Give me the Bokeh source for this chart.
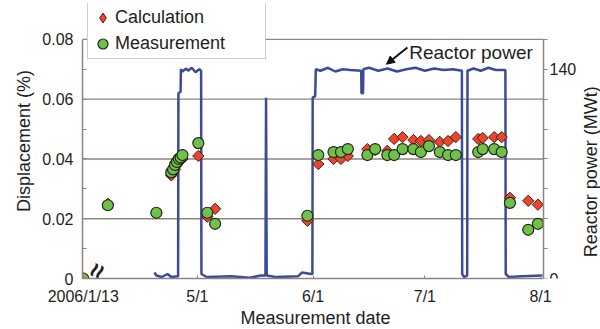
import numpy as np
import pandas as pd
from bokeh.plotting import figure
from bokeh.models import (Range1d, LinearAxis, FixedTicker, Legend, LegendItem, Label,
                          Arrow, NormalHead, CustomJSTickFormatter, Title)
from bokeh.core.properties import value
from bokeh.embed import file_html
from bokeh.resources import INLINE

FONT = "Liberation Sans"

# ---------------- data ----------------
meas_dates = [
    "2006-01-13 00:00", "2006-04-07 00:00", "2006-04-20 00:00",
    "2006-04-24 00:00", "2006-04-24 12:00", "2006-04-25 00:00", "2006-04-25 12:00",
    "2006-04-26 00:00", "2006-04-26 12:00", "2006-04-27 00:00",
    "2006-05-01 06:00", "2006-05-03 16:00", "2006-05-05 18:00",
    "2006-05-30 12:00", "2006-06-02 10:00", "2006-06-06 12:00", "2006-06-08 12:00",
    "2006-06-10 08:00", "2006-06-15 14:00", "2006-06-17 16:00", "2006-06-20 22:00",
    "2006-06-22 18:00", "2006-06-25 00:00", "2006-06-27 22:00", "2006-06-29 22:00",
    "2006-07-02 02:00", "2006-07-05 00:00", "2006-07-07 05:00", "2006-07-09 07:00",
    "2006-07-15 07:00", "2006-07-16 12:00", "2006-07-19 14:00", "2006-07-21 14:00",
    "2006-07-23 19:00", "2006-07-28 17:00", "2006-07-31 07:00",
]
calc_values = [
    0.0, 0.025, 0.022,
    0.0345, 0.0355, 0.0365, 0.038,
    0.039, 0.0395, 0.040,
    0.041, 0.0207, 0.0233,
    0.0193, 0.0383, 0.040, 0.040,
    0.041, 0.0433, 0.0430, 0.0427,
    0.0467, 0.0473, 0.0463, 0.046,
    0.0463, 0.0457, 0.046, 0.0473,
    0.0467, 0.047, 0.0473, 0.0473,
    0.027, 0.026, 0.0247,
]
meas_values = [
    0.0, 0.0245, 0.022,
    0.0355, 0.0365, 0.038, 0.039,
    0.040, 0.0405, 0.0413,
    0.0453, 0.022, 0.0183,
    0.021, 0.0413, 0.0423, 0.0423,
    0.0433, 0.0413, 0.0433, 0.0413,
    0.0413, 0.0433, 0.0433, 0.0423,
    0.0443, 0.0423, 0.0413, 0.0413,
    0.0423, 0.0433, 0.0433, 0.0423,
    0.0253, 0.0163, 0.0183,
]

power_times = [
    "2006-04-19 12:00", "2006-04-20 00:00", "2006-04-21 12:00", "2006-04-23 00:00",
    "2006-04-24 00:00", "2006-04-25 20:00", "2006-04-25 22:00", "2006-04-26 12:00",
    "2006-04-26 14:00", "2006-04-27 00:00", "2006-04-28 00:00", "2006-04-28 12:00",
    "2006-04-29 12:00", "2006-04-30 12:00", "2006-05-01 12:00", "2006-05-02 00:00",
    "2006-05-02 02:00", "2006-05-03 12:00", "2006-05-10 00:00", "2006-05-15 00:00",
    "2006-05-18 00:00", "2006-05-19 06:00", "2006-05-19 08:00", "2006-05-19 10:00",
    "2006-05-19 12:00", "2006-05-19 14:00", "2006-05-22 00:00", "2006-05-28 00:00",
    "2006-05-29 00:00", "2006-05-31 12:00", "2006-05-31 20:00", "2006-05-31 22:00",
    "2006-06-01 14:00", "2006-06-01 18:00", "2006-06-03 00:00", "2006-06-05 00:00",
    "2006-06-07 00:00", "2006-06-09 00:00", "2006-06-11 00:00", "2006-06-13 22:00",
    "2006-06-14 00:00", "2006-06-14 10:00", "2006-06-14 12:00", "2006-06-16 00:00",
    "2006-06-18 12:00", "2006-06-21 00:00", "2006-06-23 12:00", "2006-06-26 00:00",
    "2006-06-28 12:00", "2006-07-01 00:00", "2006-07-03 12:00", "2006-07-06 00:00",
    "2006-07-08 12:00", "2006-07-10 22:00", "2006-07-11 00:00", "2006-07-11 12:00",
    "2006-07-12 08:00", "2006-07-12 10:00", "2006-07-14 00:00", "2006-07-16 00:00",
    "2006-07-18 00:00", "2006-07-20 00:00", "2006-07-22 14:00", "2006-07-22 16:00",
    "2006-07-23 12:00", "2006-07-27 00:00", "2006-08-01 12:00",
]
power_mw = [
    4.0, 2.0, 1.0, 3.0,
    1.0, 1.5, 124.0, 125.0,
    140.0, 138.5, 140.5, 139.0,
    141.0, 138.0, 140.0, 139.0,
    3.0, 1.0, 1.5, 0.5,
    2.0, 2.0, 66.0, 121.0,
    60.0, 2.0, 1.0, 1.5,
    4.0, 3.0, 3.0, 121.0,
    122.0, 140.0, 139.0, 141.0,
    138.5, 140.0, 139.5, 139.0,
    124.0, 124.0, 140.0, 141.0,
    139.0, 140.5, 138.5, 140.0,
    141.0, 139.0, 140.5, 139.5,
    140.0, 139.0, 3.0, 1.0,
    2.0, 139.0, 140.5, 139.0,
    141.0, 139.5, 139.5, 3.0,
    1.0, 1.5, 2.0,
]

tick_dates = ["2006-01-13 00:00", "2006-05-01 00:00", "2006-06-01 00:00",
              "2006-07-01 00:00", "2006-08-01 00:00"]
tick_labels = ["2006/1/13", "5/1", "6/1", "7/1", "8/1"]
y_ticks = [0.0, 0.02, 0.04, 0.06, 0.08]
y_minor = [0.01, 0.03, 0.05, 0.07]
grid_levels = [0.02, 0.04, 0.06, 0.08]
power_ticks = [0, 140]
power_minor = [20, 40, 60, 80, 100, 120, 160]

# --------- broken date axis: days since 5/1, early dates placed at the axis break ---------
ORIGIN = pd.Timestamp("2006-05-01")
BREAK_BEFORE = pd.Timestamp("2006-04-01")
BREAK_POS = -30.6
X_START, X_END = -30.8, 92.8          # plotted date span (left axis .. right axis)
X_VIEW_END = 108.08                   # extra room right of the power axis for its title
Y_TOP = 0.092                         # headroom above 0.08 for the legend
POWER_PER_UNIT = 2000.0               # 160 MWt <-> 0.08 %


def to_x(dates):
    out = []
    for d in pd.to_datetime(dates, format="%Y-%m-%d %H:%M"):
        if d < BREAK_BEFORE:
            out.append(BREAK_POS)
        else:
            out.append(float((d - ORIGIN) / pd.Timedelta(days=1)))
    return out


meas_x = to_x(meas_dates)
power_x = to_x(power_times)
tick_x = to_x(tick_dates)

AX = "#8f8480"
TXT = "#1e1e1e"
RED, RED_EDGE = "#e8462e", "#5a1a10"
GREEN, GREEN_EDGE = "#72c04c", "#1e2a14"

p = figure(width=600, height=329, output_backend="svg", toolbar_location=None,
           x_range=Range1d(X_START, X_VIEW_END), y_range=Range1d(0, Y_TOP),
           min_border_left=82, min_border_right=0, min_border_top=3, min_border_bottom=50)
p.extra_y_ranges = {"power": Range1d(0, Y_TOP * POWER_PER_UNIT)}
p.background_fill_color = "white"
p.border_fill_color = "white"
p.outline_line_color = None

# horizontal grid lines, only between the two y axes (0.08 line closes the frame)
p.xgrid.visible = False
p.ygrid.visible = False
p.segment(x0=[X_START] * len(grid_levels), x1=[X_END] * len(grid_levels),
          y0=grid_levels, y1=grid_levels, line_color=AX, line_width=1.4)

# x axis
xa = p.xaxis[0]
xa.ticker = FixedTicker(ticks=tick_x)
xa.formatter = CustomJSTickFormatter(args=dict(pos=tick_x, labs=tick_labels), code="""
let best = 0;
for (let i = 0; i < pos.length; i++) {
  if (Math.abs(pos[i] - tick) < Math.abs(pos[best] - tick)) best = i;
}
return labs[best];
""")
xa.bounds = (X_START, X_END)

# x axis title, centred under the date span
p.add_layout(Title(text="Measurement date", align="left", offset=158, standoff=0,
                   vertical_align="top", text_font=FONT, text_font_size="18px",
                   text_font_style="normal", text_color=TXT), "below")

# left axis
ya = p.yaxis[0]
ya.ticker = FixedTicker(ticks=y_ticks, minor_ticks=y_minor)
ya.formatter = CustomJSTickFormatter(code="return tick == 0 ? '0' : tick.toFixed(2);")
ya.axis_label = "Displacement (%)"
ya.bounds = (0, 0.08)

# right (power) axis, pinned at the end of the date span
ra = LinearAxis(y_range_name="power",
                ticker=FixedTicker(ticks=power_ticks, minor_ticks=power_minor),
                bounds=(0, 160), fixed_location=X_END)
p.add_layout(ra, "right")

for ax in (xa, ya, ra):
    ax.axis_line_color = AX
    ax.axis_line_width = 1.5
    ax.major_tick_line_color = AX
    ax.minor_tick_line_color = AX
    ax.major_label_text_font = FONT
    ax.major_label_text_font_size = "16px"
    ax.major_label_text_color = TXT
    ax.axis_label_text_font = FONT
    ax.axis_label_text_font_size = "18px"
    ax.axis_label_text_font_style = "normal"
    ax.axis_label_text_color = TXT

xa.major_tick_in = 3
xa.major_tick_out = 0
xa.minor_tick_in = 0
xa.minor_tick_out = 0
xa.major_label_standoff = 9

ya.major_tick_in = 4
ya.major_tick_out = 0
ya.minor_tick_in = 4
ya.minor_tick_out = 0
ya.major_label_standoff = 9
ya.axis_label_standoff = 5

ra.major_tick_in = 0
ra.major_tick_out = 4
ra.minor_tick_in = 0
ra.minor_tick_out = 4
ra.major_label_standoff = 2

# right axis title, reading upward, beside the power axis
p.text(x=[X_END + 12.6], y=[0.0357], text=["Reactor power (MWt)"], angle=np.pi / 2,
       text_font=value(FONT), text_font_size="18px", text_color=TXT,
       text_align="center", text_baseline="middle")

# reactor power line
p.line(power_x, power_mw, y_range_name="power", line_color="#3c4a9a", line_width=2.5)

# points
r_calc = p.scatter(meas_x, calc_values, marker="square", angle=np.pi / 4, size=8,
                   fill_color=RED, line_color=RED_EDGE, line_width=1)
r_meas = p.scatter(meas_x, meas_values, marker="circle", size=11,
                   fill_color=GREEN, line_color=GREEN_EDGE, line_width=1.2)
# legend key for the calculation series (diamond key, not drawn in the plot)
r_calc_key = p.scatter(meas_x, calc_values, marker="diamond", fill_color=RED,
                       line_color=RED_EDGE, line_width=1, visible=False)

# legend
legend = Legend(items=[LegendItem(label="Calculation", renderers=[r_calc_key]),
                       LegendItem(label="Measurement", renderers=[r_meas])],
                location=(5, 219), orientation="vertical",
                label_text_font=FONT, label_text_font_size="18px", label_text_color=TXT,
                glyph_width=25, glyph_height=25, label_height=25, label_width=148,
                label_standoff=0, spacing=1, padding=2, margin=0,
                border_line_color="#9a9a9a", border_line_width=1.2,
                background_fill_color="white", background_fill_alpha=1.0)
p.add_layout(legend, "center")

# annotation "Reactor power" with arrow
p.add_layout(Label(x=56.8, y=0.0757, text="Reactor power", text_font=FONT,
                   text_font_size="19px", text_color=TXT, text_baseline="middle"))
p.add_layout(Arrow(end=NormalHead(size=8, fill_color="#111111", line_color="#111111"),
                   x_start=56.3, y_start=0.0773, x_end=50.7, y_end=0.0717,
                   line_color="#111111", line_width=2))

# axis break mark
p.text(x=[-27.0], y=[0.0026], text=["≈"], angle=1.15, text_font=value(FONT),
       text_font_size="26px", text_font_style="bold", text_color=TXT,
       text_align="center", text_baseline="middle")

open("out.html", "w").write(file_html(p, INLINE))
